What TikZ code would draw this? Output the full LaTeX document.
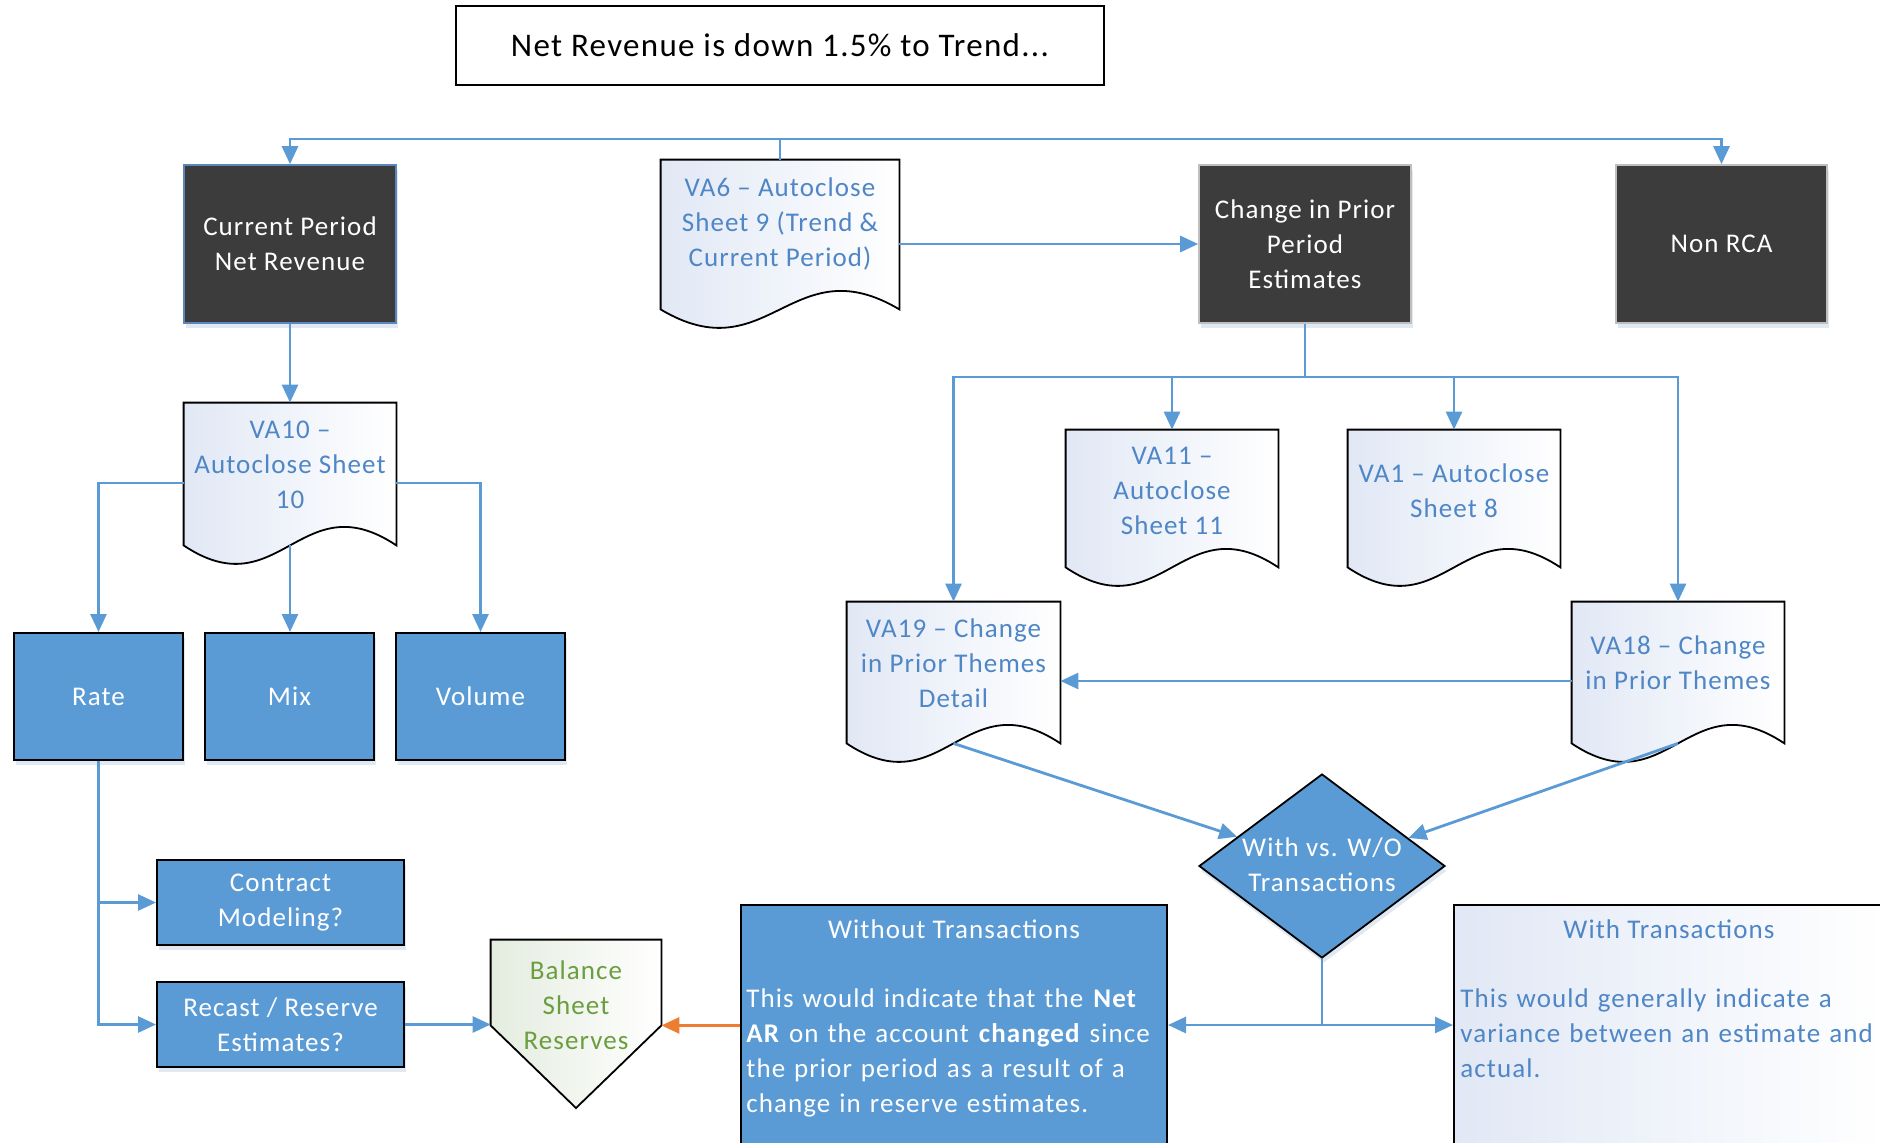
\documentclass[tikz,border=0pt]{standalone}
\usepackage{fontspec}
\setmainfont{Carlito}[LetterSpace=4]
\usetikzlibrary{arrows.meta,calc,shapes.geometric,shadows}

\definecolor{lblue}{HTML}{5B9BD5}
\definecolor{darkfill}{HTML}{3C3C3C}
\definecolor{dkborder}{HTML}{5A86BC}
\definecolor{graybd}{HTML}{BFBFBF}
\definecolor{doctext}{HTML}{4F86C6}
\definecolor{docfill}{HTML}{E1E8F5}
\definecolor{grtext}{HTML}{6A9E3F}
\definecolor{grfill}{HTML}{E4ECDF}
\definecolor{orangec}{HTML}{ED7D31}
\definecolor{shadowc}{HTML}{D3DEEC}

\newcommand\bodyfont{\fontsize{13.5pt}{17.5pt}\selectfont}
\newcommand\titlefont{\fontsize{16.5pt}{20pt}\selectfont}

\tikzset{
  every node/.style={font=\bodyfont},
  conn/.style={draw=lblue, line width=1.4pt},
  arr/.style={conn, -{Triangle[length=9pt,width=8pt]}},
  shd/.style={drop shadow={shadow xshift=0.8pt, shadow yshift=-2.5pt, fill=shadowc, opacity=0.7}},
  docshade/.style={left color=#1, right color=white},
  darkbox/.style={rectangle, fill=darkfill, line width=0.8pt, text=white, align=center, inner sep=0pt, shd},
  bluebox/.style={rectangle, fill=lblue, draw=black, line width=1pt, text=white, align=center, inner sep=0pt, shd},
  docbox/.style={rectangle, inner sep=0pt},
  doclabel/.style={text=doctext, align=center, inner sep=0pt},
}

\newcommand\docshape[1]{%
  \shadedraw[docshade=docfill, draw=black, line width=0.9pt]
    (#1.south west) -- (#1.north west) -- (#1.north east) -- (#1.south east)
    .. controls ($(#1.south west)!0.55!(#1.south east)+(0,32pt)$) and ($(#1.south west)!0.45!(#1.south east)+(0,-32pt)$) .. (#1.south west) -- cycle;}

\begin{document}
\begin{tikzpicture}[x=0.5pt, y=-0.5pt]
\useasboundingbox (0,0) rectangle (1880,1142);

% title
\node[rectangle, draw=black, line width=1pt, minimum width=324pt, minimum height=39.5pt, font=\titlefont] (title) at (780,45.5) {Net Revenue is down 1.5\% to Trend...};

% top row
\node[darkbox, draw=dkborder, minimum width=106pt, minimum height=79pt] (cur) at (290,244) {Current Period\\Net Revenue};
\node[docbox, minimum width=119pt, minimum height=74.5pt] (va6) at (780,234.5) {};
\docshape{va6}
\node[doclabel] (va6t) at (780,224) {VA6 – Autoclose\\Sheet 9 (Trend \&\\Current Period)};
\node[darkbox, draw=graybd, minimum width=106pt, minimum height=79pt] (chg) at (1305,244) {Change in Prior\\Period\\Estimates};
\node[darkbox, draw=graybd, minimum width=105.5pt, minimum height=79pt] (nonrca) at (1721.5,244) {Non RCA};

% left branch
\node[docbox, minimum width=106pt, minimum height=71pt] (va10) at (290,474) {};
\docshape{va10}
\node[doclabel] (va10t) at (290,465) {VA10 –\\Autoclose Sheet\\10};
\node[bluebox, minimum width=84.5pt, minimum height=63.5pt] (rate) at (98.5,696.5) {Rate};
\node[bluebox, minimum width=84.5pt, minimum height=63.5pt] (mix) at (289.5,696.5) {Mix};
\node[bluebox, minimum width=84.5pt, minimum height=63.5pt] (volume) at (480.5,696.5) {Volume};
\node[bluebox, minimum width=123.5pt, minimum height=42.5pt] (contract) at (280.5,902.5) {Contract\\Modeling?};
\node[bluebox, minimum width=123.5pt, minimum height=42.5pt] (recast) at (280.5,1024.5) {Recast / Reserve\\Estimates?};

% balance sheet reserves
\node[docbox, minimum width=85pt, minimum height=42.5pt] (bal) at (576,982.5) {};
\coordinate (baltip) at (576,1108);
\shadedraw[docshade=grfill, draw=black, line width=0.9pt]
  (bal.south west) -- (bal.north west) -- (bal.north east) -- (bal.south east) -- (baltip) -- cycle;
\node[text=grtext, align=center, inner sep=0pt] (balt) at (576,1005) {Balance\\Sheet\\Reserves};

% right branch
\node[docbox, minimum width=106pt, minimum height=68.5pt] (va11) at (1172,498.5) {};
\docshape{va11}
\node[doclabel] (va11t) at (1172,491) {VA11 –\\Autoclose\\Sheet 11};
\node[docbox, minimum width=106pt, minimum height=68.5pt] (va1) at (1454,498.5) {};
\docshape{va1}
\node[doclabel] (va1t) at (1454,491) {VA1 – Autoclose\\Sheet 8};
\node[docbox, minimum width=106.5pt, minimum height=70.5pt] (va19) at (953.5,672.5) {};
\docshape{va19}
\node[doclabel] (va19t) at (953.5,663) {VA19 – Change\\in Prior Themes\\Detail};
\node[docbox, minimum width=106pt, minimum height=70.5pt] (va18) at (1678,672.5) {};
\docshape{va18}
\node[doclabel] (va18t) at (1678,663) {VA18 – Change\\in Prior Themes};

% decision
\node[diamond, fill=lblue, draw=black, line width=0.9pt, minimum width=123pt, minimum height=92pt, inner sep=0pt, shd] (dia) at (1322,866) {};
\node[text=white, align=center, inner sep=0pt] (diat) at (1322,865) {With vs. W/O\\Transactions};

% bottom boxes
\node[rectangle, fill=lblue, draw=black, line width=1pt, minimum width=213pt, minimum height=122.5pt, inner sep=0pt] (without) at (954,1027.5) {};
\node[text=white, inner sep=0pt] (withoutt) at (954,929) {Without Transactions};
\node[text=white, anchor=north west, align=left, inner sep=0pt, text width=212pt] (withoutb) at (746,988)
  {This would indicate that the \textbf{Net}\\\textbf{AR} on the account \textbf{changed} since\\the prior period as a result of a\\change in reserve estimates.};
\node[rectangle, docshade=docfill, draw=black, line width=1pt, minimum width=215pt, minimum height=122.5pt, inner sep=0pt] (with) at (1669,1027.5) {};
\node[text=doctext, inner sep=0pt] (witht) at (1669,929) {With Transactions};
\node[text=doctext, anchor=north west, align=left, inner sep=0pt, text width=212pt] (withb) at (1460,988)
  {This would generally indicate a\\variance between an estimate and\\actual.};

% connectors top
\coordinate (topj) at (780,139);
\draw[conn] (va6.north) -- (topj);
\draw[arr] (topj) -| (cur.north);
\draw[arr] (topj) -| (nonrca.north);
\draw[arr] (va6.east |- chg.west) -- (chg.west);

% left connectors
\draw[arr] (cur.south) -- (va10.north);
\draw[arr] ([yshift=-4.5pt]va10.west) -| (rate.north);
\draw[arr] ([yshift=-4.5pt]va10.east) -| (volume.north);
\draw[arr] (va10.south) -- (va10.south |- mix.north);
\draw[arr] (rate.south) |- (contract.west);
\draw[arr] (rate.south) |- (recast.west);
\draw[arr] (recast.east) -- (recast.east -| bal.south west);
\draw[draw=orangec, line width=1.4pt, -{Triangle[length=9pt,width=8pt]}] (without.west |- bal.south east) -- (bal.south east);

% right connectors
\coordinate (cj) at (1305,377);
\draw[conn] (chg.south) -- (cj);
\draw[arr] (cj) -| (va19.north);
\draw[arr] (cj) -| (va18.north);
\draw[arr] (va11.north |- cj) -- (va11.north);
\draw[arr] (va1.north |- cj) -- (va1.north);
\draw[arr] ([yshift=-4.25pt]va18.west) -- ([yshift=-4.25pt]va19.east);
\draw[arr] (va19.south) -- (dia.161.6);
\draw[arr] (va18.south) -- (dia.18.4);
\coordinate (dj) at (1322,1025);
\draw[conn] (dia.south) -- (dj);
\draw[arr] (dj) -- (dj -| without.east);
\draw[arr] (dj) -- (dj -| with.west);
\end{tikzpicture}
\end{document}
